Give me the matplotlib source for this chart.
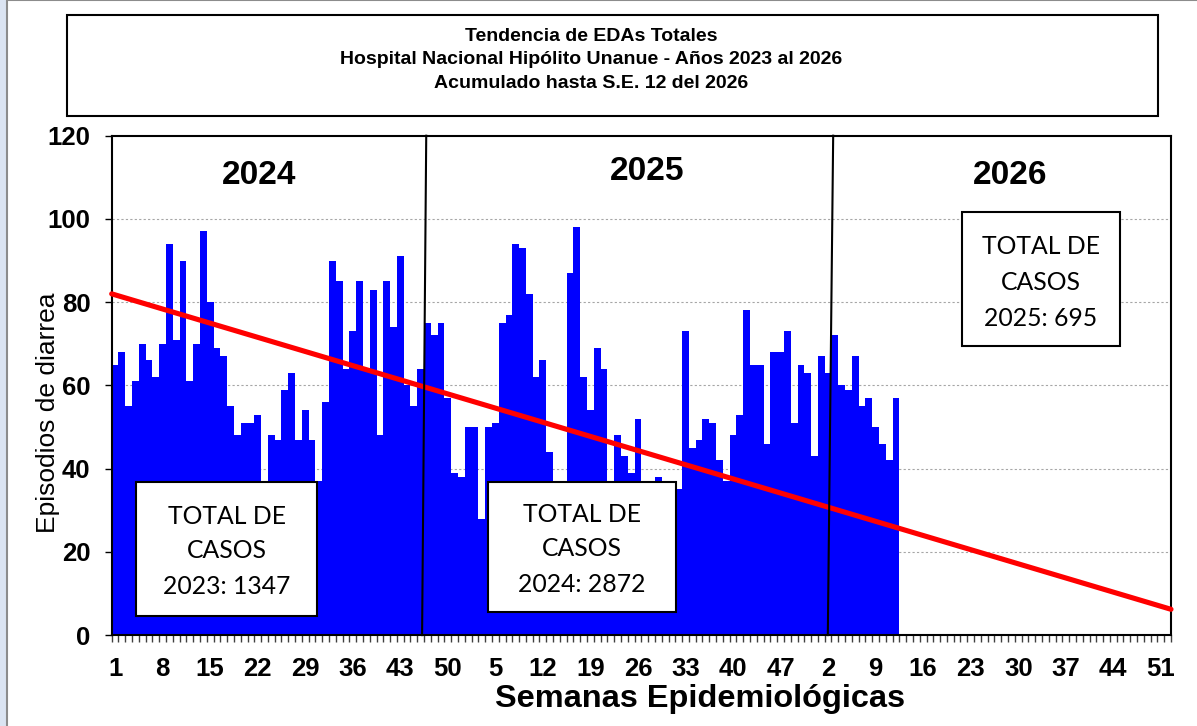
import numpy as np
import matplotlib
matplotlib.use("Agg")
import matplotlib.pyplot as plt
from matplotlib.patches import Rectangle

# ---------------- data ----------------
cases_2024 = [65, 68, 55, 61, 70, 66, 62, 70, 94, 71, 90, 61, 70, 97, 80, 69, 67, 55, 48, 51,
              51, 53, 36, 48, 47, 59, 63, 47, 54, 47, 37, 56, 90, 85, 64, 73, 85, 64, 83, 48,
              85, 74, 91, 60, 55, 64, 75, 72, 75, 57, 39, 38]
cases_2025 = [50, 50, 28, 50, 51, 75, 77, 94, 93, 82, 62, 66, 44, 35, 30, 87, 98, 62, 54, 69,
              64, 33, 48, 43, 39, 52, 34, 30, 38, 32, 34, 35, 73, 45, 47, 52, 51, 42, 37, 48,
              53, 78, 65, 65, 46, 68, 68, 73, 51, 65, 63, 43]
cases_2026 = [67, 63, 72, 60, 59, 67, 55, 57, 50, 46, 42, 57]
weeks_per_year = 52
year_labels = ["2024", "2025", "2026"]
trend_start = 82.0
trend_end = 6.2
box_texts = [["TOTAL DE", "CASOS", "2023: 1347"],
             ["TOTAL DE", "CASOS", "2024: 2872"],
             ["TOTAL DE", "CASOS", "2025: 695"]]
title_lines = ["Tendencia de EDAs Totales",
               "Hospital Nacional Hipólito Unanue - Años 2023 al 2026",
               "Acumulado hasta S.E. 12 del 2026"]
y_ticks = [0, 20, 40, 60, 80, 100, 120]

# ---------------- derived ----------------
n_cat = weeks_per_year * 3
week_numbers = list(range(1, weeks_per_year + 1)) * 3
values = np.full(n_cat, np.nan)
all_cases = cases_2024 + cases_2025 + cases_2026
values[:len(all_cases)] = all_cases
x = np.arange(n_cat)

W, H = 1197, 726
fig = plt.figure(figsize=(W / 100, H / 100), dpi=100)
fig.patch.set_facecolor("#dbe4f2")

def fx(px):
    return px / W

def fy(py):
    return 1 - py / H

# white page with grey frame
fig.patches.append(Rectangle((fx(7.3), fy(740)), fx(1200), 740 / H,
                             transform=fig.transFigure, facecolor="white",
                             edgecolor="#8c8c8c", linewidth=1.5, zorder=0))

FONT = "Liberation Sans"

# title box
fig.patches.append(Rectangle((fx(67), fy(115.5)), fx(1158 - 67), (115.5 - 15) / H,
                             transform=fig.transFigure, facecolor="white",
                             edgecolor="black", linewidth=1.5, zorder=1))
for line, base in zip(title_lines, [40.7, 64.0, 87.5]):
    fig.text(fx(591), fy(base), line, ha="center", va="baseline",
             fontsize=14, fontweight="bold", family=FONT)

# axes
L, R, T, B = 111.7, 1171, 135.7, 635.1
ax = fig.add_axes([fx(L), fy(B), fx(R - L), (B - T) / H])
ax.set_zorder(2)
ax.bar(x, values, width=1.0, color="#0000ff", linewidth=0, zorder=2)
ax.set_xlim(-0.5, n_cat - 0.5)
ax.set_ylim(0, 120)

# trend line
ax.plot([-0.5, n_cat - 0.5], [trend_start, trend_end], color="#ff0000",
        linewidth=3.7, solid_capstyle="round", zorder=3, clip_on=False)

# year separator lines (hand drawn, slightly slanted)
ax.plot([45.21, 45.82], [0, 120], color="black", linewidth=1.5, zorder=4, clip_on=False)
ax.plot([104.96, 105.75], [0, 120], color="black", linewidth=1.5, zorder=4, clip_on=False)

# grid
ax.set_yticks(y_ticks)
for yv in y_ticks[1:-1]:
    ax.axhline(yv, color="#a6a6a6", linewidth=0.8, linestyle=(0, (2, 2)), zorder=1)

# ticks
major_idx = list(range(0, n_cat, 7))
ax.set_xticks(major_idx)
ax.set_xticklabels([str(week_numbers[i]) for i in major_idx])
ax.set_xticks(np.arange(-0.5, n_cat, 1.0), minor=True)
ax.tick_params(axis="x", which="major", length=0, pad=16)
ax.tick_params(axis="x", which="minor", length=5.2, width=1.0, color="#404040", direction="out")
ax.tick_params(axis="y", which="major", length=5.2, width=1.0, direction="out", pad=10)
for lab in ax.get_xticklabels() + ax.get_yticklabels():
    lab.set_fontsize(18.5)
    lab.set_fontweight("bold")
    lab.set_family(FONT)
for sp in ax.spines.values():
    sp.set_linewidth(1.5)
    sp.set_color("black")
ax.set_facecolor("white")

# axis labels
fig.text(fx(700), fy(707), "Semanas Epidemiológicas", ha="center", va="baseline",
         fontsize=23.4, fontweight="bold", family=FONT)
fig.text(fx(48.5), fy(412.8), "Episodios de diarrea", ha="center", va="center",
         rotation=90, fontsize=19, family=FONT)

# year labels
for lab, (cx, cy) in zip(year_labels, [(259, 176), (647, 172), (1010, 176)]):
    fig.text(fx(cx), fy(cy), lab, ha="center", va="center", fontsize=24,
             fontweight="bold", family=FONT, zorder=5)

# total boxes
box_geo = [(136, 482, 317, 616, [516, 551, 586.7]),
           (488, 482, 676, 612, [515, 549, 584]),
           (962, 212, 1120, 346, [247, 282, 318])]
for texts, (x0, y0, x1, y1, ys) in zip(box_texts, box_geo):
    fig.patches.append(Rectangle((fx(x0), fy(y1)), fx(x1 - x0), (y1 - y0) / H,
                                 transform=fig.transFigure, facecolor="white",
                                 edgecolor="black", linewidth=1.5, zorder=10))
    for t, yy in zip(texts, ys):
        fig.text(fx((x0 + x1) / 2), fy(yy), t, ha="center", va="center",
                 fontsize=17.8, family="Lato", zorder=11)

fig.savefig("out.png", dpi=100, facecolor=fig.get_facecolor())
